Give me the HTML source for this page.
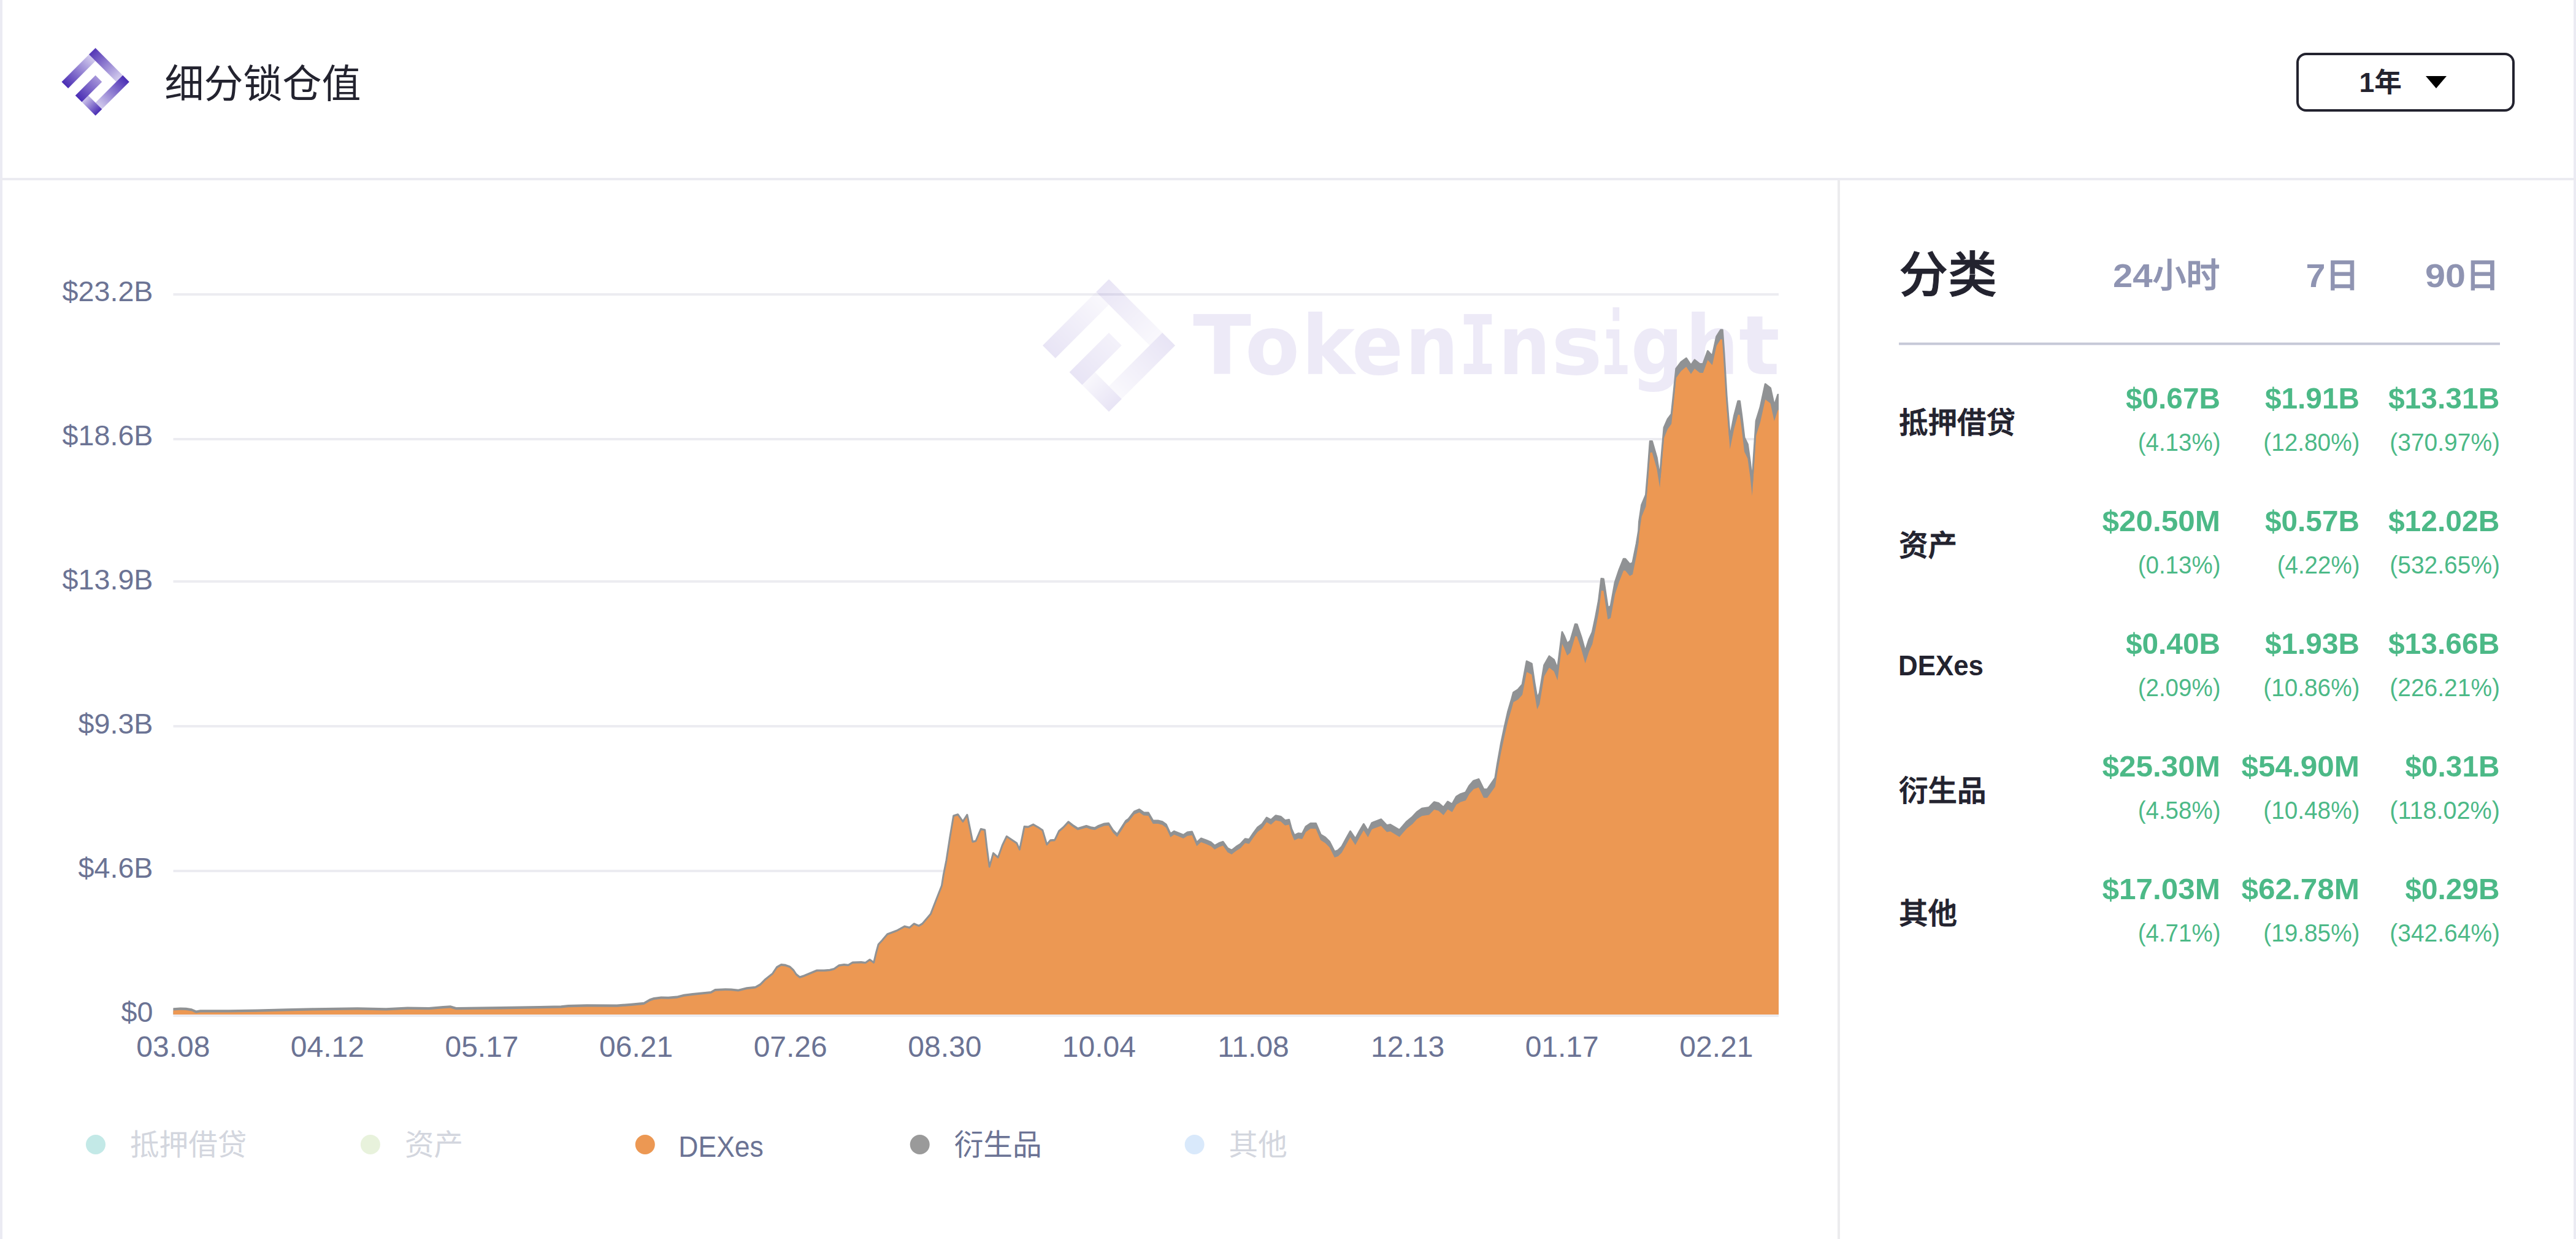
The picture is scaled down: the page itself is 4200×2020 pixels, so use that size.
<!DOCTYPE html>
<html lang="zh-CN"><head><meta charset="utf-8"><title>细分锁仓值</title>
<style>html,body{margin:0;padding:0;background:#fff}body{width:4200px;height:2020px;overflow:hidden}svg{display:block}</style>
</head><body>
<svg width="4200" height="2020" viewBox="0 0 4200 2020" font-family='"Liberation Sans", "Noto Sans CJK SC", sans-serif'>
<defs>
<linearGradient id="lgA" x1="0" y1="0" x2="1" y2="0"><stop offset="0" stop-color="#4a2db4"/><stop offset="0.95" stop-color="#d2cbed"/></linearGradient>
<linearGradient id="lgB" x1="0" y1="0" x2="0" y2="1"><stop offset="0" stop-color="#5437b6"/><stop offset="0.95" stop-color="#d2cbed"/></linearGradient>
<linearGradient id="lgC" x1="1" y1="0" x2="0" y2="0"><stop offset="0" stop-color="#4a2db4"/><stop offset="0.95" stop-color="#d2cbed"/></linearGradient>
<linearGradient id="lgD" x1="0" y1="1" x2="0" y2="0"><stop offset="0" stop-color="#4a2db4"/><stop offset="0.95" stop-color="#cfc7ec"/></linearGradient>
<linearGradient id="lgE" x1="0" y1="0" x2="1" y2="0"><stop offset="0" stop-color="#4a2db4"/><stop offset="1" stop-color="#a797da"/></linearGradient>
</defs>
<rect width="4200" height="2020" fill="#ffffff"/>
<rect x="0" y="0" width="4" height="2020" fill="#ebebf3"/>
<rect x="4196" y="0" width="4" height="2020" fill="#ebebf3"/>
<rect x="0" y="290" width="4200" height="4" fill="#ebebf1"/>
<rect x="2996" y="294" width="4" height="1726" fill="#ececee"/>
<g transform="translate(100.5,133.4) rotate(-45) scale(1.0)"><rect x="0" y="0" width="66" height="15" fill="url(#lgA)"/><rect x="63" y="0" width="15" height="66" fill="url(#lgB)"/><rect x="12" y="63" width="66" height="15" fill="url(#lgC)"/><rect x="0" y="44" width="15" height="34" fill="url(#lgD)"/><rect x="0" y="31.5" width="46.5" height="15" fill="url(#lgE)"/></g>
<text x="268.5" y="159" font-size="64" fill="#23232f">细分锁仓值</text>
<rect x="3746" y="88" width="352" height="92" rx="14" ry="14" fill="#fff" stroke="#23232f" stroke-width="4"/>
<text x="3846.5" y="150" font-size="44" fill="#23232f" font-weight="700" textLength="69.5" lengthAdjust="spacingAndGlyphs">1年</text>
<path d="M3955,124 H3989 L3972,144 Z" fill="#000"/>
<rect x="282.5" y="478" width="2617.5" height="4" fill="#ececf1"/>
<rect x="282.5" y="714" width="2617.5" height="4" fill="#ececf1"/>
<rect x="282.5" y="946" width="2617.5" height="4" fill="#ececf1"/>
<rect x="282.5" y="1182" width="2617.5" height="4" fill="#ececf1"/>
<rect x="282.5" y="1418" width="2617.5" height="4" fill="#ececf1"/>
<rect x="282.5" y="1654" width="2617.5" height="4" fill="#ececf1"/>
<g opacity="0.12"><g transform="translate(1700,563.2) rotate(-45) scale(1.958)"><rect x="0" y="0" width="66" height="15" fill="url(#lgA)"/><rect x="63" y="0" width="15" height="66" fill="url(#lgB)"/><rect x="12" y="63" width="66" height="15" fill="url(#lgC)"/><rect x="0" y="44" width="15" height="34" fill="url(#lgD)"/><rect x="0" y="31.5" width="46.5" height="15" fill="url(#lgE)"/></g></g>
<g fill="#5a40b8" opacity="0.1">
<text y="610" font-family='"DejaVu Sans", "Liberation Sans", sans-serif' font-weight="700" font-size="133"><tspan x="1945" textLength="95" lengthAdjust="spacingAndGlyphs">T</tspan><tspan x="2030" textLength="89" lengthAdjust="spacingAndGlyphs">o</tspan><tspan x="2122" textLength="87" lengthAdjust="spacingAndGlyphs">k</tspan><tspan x="2204" textLength="84" lengthAdjust="spacingAndGlyphs">e</tspan><tspan x="2291" textLength="87" lengthAdjust="spacingAndGlyphs">n</tspan><tspan x="2378" font-family='"DejaVu Sans Mono", "Liberation Mono", monospace' textLength="63" lengthAdjust="spacingAndGlyphs">I</tspan><tspan x="2443" textLength="85" lengthAdjust="spacingAndGlyphs">n</tspan><tspan x="2529" textLength="84" lengthAdjust="spacingAndGlyphs">s</tspan><tspan x="2611" font-family='"DejaVu Sans Mono", "Liberation Mono", monospace' textLength="45" lengthAdjust="spacingAndGlyphs">i</tspan><tspan x="2659" textLength="85" lengthAdjust="spacingAndGlyphs">g</tspan><tspan x="2748" textLength="87" lengthAdjust="spacingAndGlyphs">h</tspan><tspan x="2835" textLength="67" lengthAdjust="spacingAndGlyphs">t</tspan></text></g>
<path d="M282.5,1644.7 L294.0,1644.0 L303.3,1644.2 L312.6,1645.8 L319.6,1648.9 L326.6,1647.7 L373.2,1647.7 L419.8,1647.0 L466.3,1645.8 L512.9,1644.7 L582.8,1643.7 L629.4,1644.7 L664.3,1643.0 L699.3,1643.5 L722.6,1641.4 L734.2,1640.7 L743.5,1643.5 L815.8,1642.6 L880.0,1641.4 L914.9,1640.7 L926.6,1639.5 L956.9,1638.8 L1005.8,1639.0 L1029.1,1637.2 L1050.0,1635.3 L1059.4,1629.7 L1066.3,1627.4 L1078.0,1626.0 L1089.6,1626.2 L1103.6,1625.1 L1115.3,1622.3 L1129.2,1620.4 L1159.5,1617.4 L1166.5,1613.4 L1182.8,1612.7 L1192.1,1612.9 L1203.8,1614.3 L1217.8,1610.8 L1231.7,1609.2 L1239.9,1604.6 L1248.0,1596.4 L1259.7,1587.1 L1266.7,1576.6 L1273.7,1572.6 L1280.7,1573.3 L1287.6,1575.9 L1293.5,1581.3 L1298.1,1588.3 L1303.9,1592.9 L1310.9,1590.6 L1331.9,1582.0 L1343.5,1582.0 L1352.9,1581.3 L1359.9,1579.4 L1368.0,1573.8 L1376.2,1572.6 L1383.1,1573.3 L1390.1,1569.1 L1404.1,1568.5 L1411.1,1569.4 L1418.1,1564.5 L1424.7,1569.2 L1428.1,1554.5 L1432.1,1539.8 L1438.3,1533.0 L1446.8,1522.9 L1462.0,1517.2 L1475.0,1510.1 L1483.0,1512.1 L1490.3,1505.9 L1498.2,1509.3 L1503.8,1505.9 L1517.4,1490.1 L1525.3,1469.7 L1535.5,1443.8 L1538.3,1426.0 L1543.0,1402.6 L1548.8,1365.1 L1554.7,1330.0 L1561.7,1327.7 L1569.9,1339.4 L1576.9,1328.4 L1581.6,1351.1 L1585.8,1372.1 L1591.0,1371.0 L1599.2,1351.5 L1605.7,1353.0 L1609.0,1381.5 L1613.2,1413.1 L1619.5,1390.9 L1627.2,1397.9 L1634.3,1378.0 L1641.3,1363.5 L1650.6,1369.8 L1657.7,1374.5 L1662.4,1385.0 L1666.6,1365.1 L1670.1,1347.6 L1676.4,1348.0 L1684.6,1344.1 L1692.8,1348.7 L1699.8,1353.4 L1703.3,1365.1 L1706.8,1376.8 L1712.7,1369.8 L1719.7,1369.3 L1726.7,1354.6 L1733.7,1348.7 L1741.9,1339.8 L1749.0,1345.2 L1757.1,1350.6 L1771.2,1346.4 L1778.2,1348.7 L1785.2,1349.9 L1791.1,1346.4 L1800.4,1342.9 L1807.5,1342.2 L1814.5,1353.4 L1821.5,1360.4 L1829.7,1347.6 L1835.6,1338.2 L1840.0,1335.2 L1849.4,1323.2 L1857.6,1319.7 L1864.6,1324.8 L1872.3,1325.1 L1879.8,1338.0 L1888.0,1338.0 L1895.0,1339.6 L1901.3,1344.3 L1908.3,1359.5 L1914.4,1355.3 L1921.9,1358.3 L1929.4,1361.4 L1936.0,1357.1 L1943.5,1356.0 L1951.2,1373.5 L1958.2,1367.0 L1966.4,1370.0 L1974.6,1373.5 L1980.4,1378.7 L1987.5,1374.7 L1994.0,1372.4 L2001.5,1382.9 L2008.1,1386.4 L2015.5,1380.6 L2022.6,1375.9 L2030.1,1367.7 L2036.6,1368.8 L2043.6,1358.3 L2050.6,1349.0 L2057.7,1343.8 L2065.2,1333.0 L2072.2,1336.8 L2079.9,1329.8 L2088.1,1331.4 L2095.1,1337.7 L2101.7,1336.5 L2105.7,1351.3 L2110.3,1361.8 L2116.7,1358.8 L2123.2,1359.5 L2129.1,1347.8 L2136.8,1342.4 L2145.4,1342.4 L2153.2,1360.7 L2160.7,1365.3 L2167.7,1372.4 L2175.9,1388.7 L2181.7,1386.4 L2187.6,1380.6 L2194.6,1367.7 L2201.6,1355.3 L2209.8,1367.7 L2216.8,1354.8 L2223.4,1343.6 L2230.4,1354.8 L2236.7,1341.9 L2240.0,1340.3 L2251.7,1335.8 L2261.1,1345.7 L2266.9,1344.5 L2281.7,1353.2 L2293.8,1339.3 L2303.2,1331.6 L2310.2,1323.9 L2318.4,1318.3 L2330.1,1316.4 L2338.3,1307.7 L2345.3,1309.4 L2353.5,1316.4 L2360.5,1307.0 L2367.6,1311.3 L2374.6,1298.8 L2381.6,1294.6 L2389.8,1291.8 L2395.6,1281.3 L2402.7,1273.1 L2410.9,1270.3 L2419.1,1287.1 L2424.9,1287.1 L2437.8,1268.4 L2441.3,1246.2 L2447.1,1213.4 L2453.0,1185.3 L2458.8,1159.6 L2464.7,1139.7 L2467.6,1128.9 L2475.1,1124.2 L2482.1,1116.0 L2489.2,1078.1 L2497.3,1082.0 L2502.0,1113.6 L2506.2,1138.2 L2510.2,1130.0 L2517.7,1084.4 L2525.9,1069.9 L2533.6,1075.7 L2539.5,1090.2 L2543.0,1062.1 L2547.0,1030.6 L2550.0,1036.4 L2555.2,1049.3 L2560.5,1044.6 L2568.3,1017.7 L2571.1,1018.1 L2578.1,1038.7 L2584.6,1062.1 L2591.0,1042.3 L2596.3,1030.6 L2601.5,1006.0 L2606.6,979.1 L2610.9,943.5 L2614.4,944.0 L2621.4,990.8 L2626.1,988.4 L2633.1,949.8 L2640.1,928.7 L2647.1,911.2 L2649.9,911.2 L2657.2,919.8 L2661.9,917.5 L2668.2,886.6 L2671.7,865.5 L2672.5,850.7 L2676.6,823.3 L2683.5,806.8 L2686.7,768.4 L2690.3,719.6 L2693.6,719.6 L2701.3,746.5 L2706.2,778.0 L2709.5,738.2 L2713.1,697.1 L2719.1,683.4 L2725.2,675.1 L2728.7,642.2 L2732.8,601.1 L2741.1,590.1 L2749.3,584.1 L2757.0,595.6 L2763.0,586.8 L2771.2,593.4 L2776.7,593.4 L2784.4,572.3 L2791.8,580.5 L2798.7,548.9 L2805.5,538.0 L2808.3,538.0 L2811.0,576.4 L2815.1,645.0 L2820.6,713.5 L2827.5,677.9 L2833.8,654.0 L2836.5,654.0 L2839.8,677.9 L2844.0,713.5 L2849.4,724.5 L2853.6,754.7 L2856.8,784.9 L2859.6,741.0 L2863.2,686.1 L2870.0,664.2 L2878.2,626.3 L2886.5,632.6 L2892.8,661.4 L2898.8,643.6 L2900.0,643.6 L2900,1654 L282.5,1654 Z" fill="#909294"/>
<path d="M282.5,1647.5 L294.0,1646.8 L303.3,1647.0 L312.6,1648.6 L319.6,1651.7 L326.6,1650.5 L373.2,1650.5 L419.8,1649.8 L466.3,1648.6 L512.9,1647.5 L582.8,1646.5 L629.4,1647.5 L664.3,1645.8 L699.3,1646.3 L722.6,1644.2 L734.2,1643.5 L743.5,1646.3 L815.8,1645.4 L880.0,1644.2 L914.9,1643.5 L926.6,1642.3 L956.9,1641.6 L1005.8,1641.8 L1029.1,1639.9 L1050.0,1638.0 L1059.4,1632.4 L1066.3,1630.0 L1078.0,1628.6 L1089.6,1628.8 L1103.6,1627.7 L1115.3,1624.8 L1129.2,1622.9 L1159.5,1619.8 L1166.5,1615.8 L1182.8,1615.1 L1192.1,1615.3 L1203.8,1616.6 L1217.8,1613.1 L1231.7,1611.5 L1239.9,1606.9 L1248.0,1598.6 L1259.7,1589.3 L1266.7,1578.8 L1273.7,1574.8 L1280.7,1575.5 L1287.6,1578.0 L1293.5,1583.4 L1298.1,1590.4 L1303.9,1595.0 L1310.9,1592.7 L1331.9,1584.0 L1343.5,1584.0 L1352.9,1583.3 L1359.9,1581.4 L1368.0,1575.8 L1376.2,1574.5 L1383.1,1575.2 L1390.1,1571.0 L1404.1,1570.4 L1411.1,1571.3 L1418.1,1566.3 L1424.7,1571.0 L1428.1,1556.3 L1432.1,1541.6 L1438.3,1534.8 L1446.8,1524.7 L1462.0,1519.0 L1475.0,1511.9 L1483.0,1513.9 L1490.3,1507.7 L1498.2,1511.1 L1503.8,1507.7 L1517.4,1491.9 L1525.3,1471.5 L1535.5,1445.6 L1538.3,1427.8 L1543.0,1404.4 L1548.8,1366.9 L1554.7,1331.8 L1561.7,1329.5 L1569.9,1341.2 L1576.9,1330.2 L1581.6,1352.9 L1585.8,1373.9 L1591.0,1372.8 L1599.2,1353.3 L1605.7,1354.8 L1609.0,1383.3 L1613.2,1414.9 L1619.5,1392.7 L1627.2,1399.7 L1634.3,1379.8 L1641.3,1365.3 L1650.6,1371.6 L1657.7,1376.3 L1662.4,1386.8 L1666.6,1366.9 L1670.1,1349.4 L1676.4,1349.8 L1684.6,1345.9 L1692.8,1350.5 L1699.8,1355.2 L1703.3,1367.0 L1706.8,1378.7 L1712.7,1371.8 L1719.7,1371.5 L1726.7,1356.9 L1733.7,1351.1 L1741.9,1342.4 L1749.0,1347.9 L1757.1,1353.5 L1771.2,1349.6 L1778.2,1352.0 L1785.2,1353.3 L1791.1,1350.0 L1800.4,1346.6 L1807.5,1346.1 L1814.5,1357.4 L1821.5,1364.5 L1829.7,1351.9 L1835.6,1342.6 L1840.0,1339.7 L1849.4,1327.8 L1857.6,1324.4 L1864.6,1329.6 L1872.3,1330.0 L1879.8,1343.0 L1888.0,1343.1 L1895.0,1344.8 L1901.3,1349.6 L1908.3,1364.9 L1914.4,1360.7 L1921.9,1363.8 L1929.4,1367.0 L1936.0,1362.8 L1943.5,1361.8 L1951.2,1379.4 L1958.2,1373.0 L1966.4,1376.1 L1974.6,1379.7 L1980.4,1385.0 L1987.5,1381.0 L1994.0,1378.8 L2001.5,1389.4 L2008.1,1393.0 L2015.5,1387.3 L2022.6,1382.7 L2030.1,1374.6 L2036.6,1375.8 L2043.6,1365.4 L2050.6,1356.2 L2057.7,1351.1 L2065.2,1340.4 L2072.2,1344.4 L2079.9,1337.5 L2088.1,1339.2 L2095.1,1345.7 L2101.7,1344.6 L2105.7,1359.4 L2110.3,1370.0 L2116.7,1367.1 L2123.2,1368.0 L2129.1,1356.4 L2136.8,1351.1 L2145.4,1351.2 L2153.2,1369.7 L2160.7,1374.4 L2167.7,1381.6 L2175.9,1398.1 L2181.7,1395.9 L2187.6,1390.2 L2194.6,1377.4 L2201.6,1365.1 L2209.8,1377.7 L2216.8,1364.9 L2223.4,1353.8 L2230.4,1365.1 L2236.7,1352.3 L2240.0,1350.8 L2251.7,1346.5 L2261.1,1356.6 L2266.9,1355.5 L2281.7,1364.4 L2293.8,1350.7 L2303.2,1343.2 L2310.2,1335.6 L2318.4,1330.2 L2330.1,1328.5 L2338.3,1319.9 L2345.3,1321.7 L2353.5,1328.9 L2360.5,1319.6 L2367.6,1324.0 L2374.6,1311.7 L2381.6,1307.6 L2389.8,1304.9 L2395.6,1294.5 L2402.7,1286.4 L2410.9,1283.8 L2419.1,1300.7 L2424.9,1300.8 L2437.8,1282.4 L2441.3,1260.3 L2447.1,1227.9 L2453.0,1200.2 L2458.8,1174.9 L2464.7,1155.3 L2467.6,1144.7 L2475.1,1140.5 L2482.1,1132.8 L2489.2,1095.4 L2497.3,1099.8 L2502.0,1131.6 L2506.2,1156.4 L2510.2,1148.3 L2517.7,1102.8 L2525.9,1088.5 L2533.6,1094.5 L2539.5,1109.2 L2543.0,1081.2 L2547.0,1049.8 L2550.0,1055.7 L2555.2,1068.7 L2560.5,1064.1 L2568.3,1037.2 L2571.1,1037.6 L2578.1,1058.1 L2584.6,1081.5 L2591.0,1061.7 L2596.3,1049.9 L2601.5,1025.3 L2606.6,998.4 L2610.9,962.8 L2614.4,963.3 L2621.4,1010.0 L2626.1,1007.6 L2633.1,969.0 L2640.1,947.9 L2647.1,930.3 L2649.9,930.3 L2657.2,938.9 L2661.9,936.6 L2668.2,905.6 L2671.7,884.5 L2672.5,869.7 L2676.6,842.3 L2683.5,825.5 L2686.7,786.9 L2690.3,737.9 L2693.6,737.6 L2701.3,764.0 L2706.2,795.1 L2709.5,755.1 L2713.1,713.7 L2719.1,699.6 L2725.2,690.9 L2728.7,657.7 L2732.8,616.3 L2741.1,604.7 L2749.3,598.1 L2757.0,609.7 L2763.0,601.0 L2771.2,607.8 L2776.7,607.9 L2784.4,586.9 L2791.8,595.3 L2798.7,563.8 L2805.5,553.1 L2808.3,553.8 L2811.0,592.8 L2815.1,662.4 L2820.6,732.3 L2827.5,698.3 L2833.8,676.0 L2836.5,676.2 L2839.8,700.3 L2844.0,736.2 L2849.4,747.5 L2853.6,778.0 L2856.8,808.4 L2859.6,764.7 L2863.2,710.0 L2870.0,688.5 L2878.2,651.2 L2886.5,657.6 L2892.8,686.4 L2898.8,668.6 L2900.0,668.6 L2900,1654 L282.5,1654 Z" fill="#ec9853"/>
<path d="M282.5,1644.7 L294.0,1644.0 L303.3,1644.2 L312.6,1645.8 L319.6,1648.9 L326.6,1647.7 L373.2,1647.7 L419.8,1647.0 L466.3,1645.8 L512.9,1644.7 L582.8,1643.7 L629.4,1644.7 L664.3,1643.0 L699.3,1643.5 L722.6,1641.4 L734.2,1640.7 L743.5,1643.5 L815.8,1642.6 L880.0,1641.4 L914.9,1640.7 L926.6,1639.5 L956.9,1638.8 L1005.8,1639.0 L1029.1,1637.2 L1050.0,1635.3 L1059.4,1629.7 L1066.3,1627.4 L1078.0,1626.0 L1089.6,1626.2 L1103.6,1625.1 L1115.3,1622.3 L1129.2,1620.4 L1159.5,1617.4 L1166.5,1613.4 L1182.8,1612.7 L1192.1,1612.9 L1203.8,1614.3 L1217.8,1610.8 L1231.7,1609.2 L1239.9,1604.6 L1248.0,1596.4 L1259.7,1587.1 L1266.7,1576.6 L1273.7,1572.6 L1280.7,1573.3 L1287.6,1575.9 L1293.5,1581.3 L1298.1,1588.3 L1303.9,1592.9 L1310.9,1590.6 L1331.9,1582.0 L1343.5,1582.0 L1352.9,1581.3 L1359.9,1579.4 L1368.0,1573.8 L1376.2,1572.6 L1383.1,1573.3 L1390.1,1569.1 L1404.1,1568.5 L1411.1,1569.4 L1418.1,1564.5 L1424.7,1569.2 L1428.1,1554.5 L1432.1,1539.8 L1438.3,1533.0 L1446.8,1522.9 L1462.0,1517.2 L1475.0,1510.1 L1483.0,1512.1 L1490.3,1505.9 L1498.2,1509.3 L1503.8,1505.9 L1517.4,1490.1 L1525.3,1469.7 L1535.5,1443.8 L1538.3,1426.0 L1543.0,1402.6 L1548.8,1365.1 L1554.7,1330.0 L1561.7,1327.7 L1569.9,1339.4 L1576.9,1328.4 L1581.6,1351.1 L1585.8,1372.1 L1591.0,1371.0 L1599.2,1351.5 L1605.7,1353.0 L1609.0,1381.5 L1613.2,1413.1 L1619.5,1390.9 L1627.2,1397.9 L1634.3,1378.0 L1641.3,1363.5 L1650.6,1369.8 L1657.7,1374.5 L1662.4,1385.0 L1666.6,1365.1 L1670.1,1347.6 L1676.4,1348.0 L1684.6,1344.1 L1692.8,1348.7 L1699.8,1353.4 L1703.3,1365.1 L1706.8,1376.8 L1712.7,1369.8 L1719.7,1369.3 L1726.7,1354.6 L1733.7,1348.7 L1741.9,1339.8 L1749.0,1345.2 L1757.1,1350.6 L1771.2,1346.4 L1778.2,1348.7 L1785.2,1349.9 L1791.1,1346.4 L1800.4,1342.9 L1807.5,1342.2 L1814.5,1353.4 L1821.5,1360.4 L1829.7,1347.6 L1835.6,1338.2 L1840.0,1335.2 L1849.4,1323.2 L1857.6,1319.7 L1864.6,1324.8 L1872.3,1325.1 L1879.8,1338.0 L1888.0,1338.0 L1895.0,1339.6 L1901.3,1344.3 L1908.3,1359.5 L1914.4,1355.3 L1921.9,1358.3 L1929.4,1361.4 L1936.0,1357.1 L1943.5,1356.0 L1951.2,1373.5 L1958.2,1367.0 L1966.4,1370.0 L1974.6,1373.5 L1980.4,1378.7 L1987.5,1374.7 L1994.0,1372.4 L2001.5,1382.9 L2008.1,1386.4 L2015.5,1380.6 L2022.6,1375.9 L2030.1,1367.7 L2036.6,1368.8 L2043.6,1358.3 L2050.6,1349.0 L2057.7,1343.8 L2065.2,1333.0 L2072.2,1336.8 L2079.9,1329.8 L2088.1,1331.4 L2095.1,1337.7 L2101.7,1336.5 L2105.7,1351.3 L2110.3,1361.8 L2116.7,1358.8 L2123.2,1359.5 L2129.1,1347.8 L2136.8,1342.4 L2145.4,1342.4 L2153.2,1360.7 L2160.7,1365.3 L2167.7,1372.4 L2175.9,1388.7 L2181.7,1386.4 L2187.6,1380.6 L2194.6,1367.7 L2201.6,1355.3 L2209.8,1367.7 L2216.8,1354.8 L2223.4,1343.6 L2230.4,1354.8 L2236.7,1341.9 L2240.0,1340.3 L2251.7,1335.8 L2261.1,1345.7 L2266.9,1344.5 L2281.7,1353.2 L2293.8,1339.3 L2303.2,1331.6 L2310.2,1323.9 L2318.4,1318.3 L2330.1,1316.4 L2338.3,1307.7 L2345.3,1309.4 L2353.5,1316.4 L2360.5,1307.0 L2367.6,1311.3 L2374.6,1298.8 L2381.6,1294.6 L2389.8,1291.8 L2395.6,1281.3 L2402.7,1273.1 L2410.9,1270.3 L2419.1,1287.1 L2424.9,1287.1 L2437.8,1268.4 L2441.3,1246.2 L2447.1,1213.4 L2453.0,1185.3 L2458.8,1159.6 L2464.7,1139.7 L2467.6,1128.9 L2475.1,1124.2 L2482.1,1116.0 L2489.2,1078.1 L2497.3,1082.0 L2502.0,1113.6 L2506.2,1138.2 L2510.2,1130.0 L2517.7,1084.4 L2525.9,1069.9 L2533.6,1075.7 L2539.5,1090.2 L2543.0,1062.1 L2547.0,1030.6 L2550.0,1036.4 L2555.2,1049.3 L2560.5,1044.6 L2568.3,1017.7 L2571.1,1018.1 L2578.1,1038.7 L2584.6,1062.1 L2591.0,1042.3 L2596.3,1030.6 L2601.5,1006.0 L2606.6,979.1 L2610.9,943.5 L2614.4,944.0 L2621.4,990.8 L2626.1,988.4 L2633.1,949.8 L2640.1,928.7 L2647.1,911.2 L2649.9,911.2 L2657.2,919.8 L2661.9,917.5 L2668.2,886.6 L2671.7,865.5 L2672.5,850.7 L2676.6,823.3 L2683.5,806.8 L2686.7,768.4 L2690.3,719.6 L2693.6,719.6 L2701.3,746.5 L2706.2,778.0 L2709.5,738.2 L2713.1,697.1 L2719.1,683.4 L2725.2,675.1 L2728.7,642.2 L2732.8,601.1 L2741.1,590.1 L2749.3,584.1 L2757.0,595.6 L2763.0,586.8 L2771.2,593.4 L2776.7,593.4 L2784.4,572.3 L2791.8,580.5 L2798.7,548.9 L2805.5,538.0 L2808.3,538.0 L2811.0,576.4 L2815.1,645.0 L2820.6,713.5 L2827.5,677.9 L2833.8,654.0 L2836.5,654.0 L2839.8,677.9 L2844.0,713.5 L2849.4,724.5 L2853.6,754.7 L2856.8,784.9 L2859.6,741.0 L2863.2,686.1 L2870.0,664.2 L2878.2,626.3 L2886.5,632.6 L2892.8,661.4 L2898.8,643.6 L2900.0,643.6" fill="none" stroke="#909294" stroke-width="3" stroke-linejoin="round"/>
<text x="249.5" y="491" font-size="46.7" fill="#6b7394" text-anchor="end">$23.2B</text>
<text x="249.5" y="726" font-size="46.7" fill="#6b7394" text-anchor="end">$18.6B</text>
<text x="249.5" y="961" font-size="46.7" fill="#6b7394" text-anchor="end">$13.9B</text>
<text x="249.5" y="1196" font-size="46.7" fill="#6b7394" text-anchor="end">$9.3B</text>
<text x="249.5" y="1431" font-size="46.7" fill="#6b7394" text-anchor="end">$4.6B</text>
<text x="249.5" y="1666" font-size="46.7" fill="#6b7394" text-anchor="end">$0</text>
<text x="282.3" y="1722.5" font-size="48" fill="#6b7394" text-anchor="middle">03.08</text>
<text x="533.9" y="1722.5" font-size="48" fill="#6b7394" text-anchor="middle">04.12</text>
<text x="785.5" y="1722.5" font-size="48" fill="#6b7394" text-anchor="middle">05.17</text>
<text x="1037.1" y="1722.5" font-size="48" fill="#6b7394" text-anchor="middle">06.21</text>
<text x="1288.7" y="1722.5" font-size="48" fill="#6b7394" text-anchor="middle">07.26</text>
<text x="1540.3" y="1722.5" font-size="48" fill="#6b7394" text-anchor="middle">08.30</text>
<text x="1791.9" y="1722.5" font-size="48" fill="#6b7394" text-anchor="middle">10.04</text>
<text x="2043.5" y="1722.5" font-size="48" fill="#6b7394" text-anchor="middle">11.08</text>
<text x="2295.1" y="1722.5" font-size="48" fill="#6b7394" text-anchor="middle">12.13</text>
<text x="2546.7" y="1722.5" font-size="48" fill="#6b7394" text-anchor="middle">01.17</text>
<text x="2798.3" y="1722.5" font-size="48" fill="#6b7394" text-anchor="middle">02.21</text>
<circle cx="156.0" cy="1866" r="16" fill="#c3e9e7"/>
<text x="212.0" y="1882.5" font-size="47.6" fill="#d3d6de">抵押借贷</text>
<circle cx="603.9" cy="1866" r="16" fill="#e8f2dc"/>
<text x="659.9" y="1882.5" font-size="47.6" fill="#d3d6de">资产</text>
<circle cx="1051.8" cy="1866" r="16" fill="#ec9853"/>
<text x="1106.3" y="1885.5" font-size="47.5" fill="#6b7394" textLength="138.6" lengthAdjust="spacingAndGlyphs">DEXes</text>
<circle cx="1499.7" cy="1866" r="16" fill="#9a9a9a"/>
<text x="1555.7" y="1882.5" font-size="47.6" fill="#6b7394">衍生品</text>
<circle cx="1947.6" cy="1866" r="16" fill="#d9e9fb"/>
<text x="2003.6" y="1882.5" font-size="47.6" fill="#d3d6de">其他</text>
<text x="3096" y="476" font-size="80" fill="#23232f" font-weight="500" stroke="#23232f" stroke-width="1">分类</text>
<text x="3619.5" y="468" font-size="55" fill="#8f94b2" font-weight="700" text-anchor="end"><tspan font-size="54" textLength="64.5" lengthAdjust="spacingAndGlyphs">24</tspan><tspan font-weight="500" stroke="#8f94b2" stroke-width="1">小时</tspan></text>
<text x="3846.5" y="468" font-size="55" fill="#8f94b2" font-weight="700" text-anchor="end"><tspan font-size="54" textLength="32" lengthAdjust="spacingAndGlyphs">7</tspan><tspan font-weight="500" stroke="#8f94b2" stroke-width="1">日</tspan></text>
<text x="4075.0" y="468" font-size="55" fill="#8f94b2" font-weight="700" text-anchor="end"><tspan font-size="54" textLength="66" lengthAdjust="spacingAndGlyphs">90</tspan><tspan font-weight="500" stroke="#8f94b2" stroke-width="1">日</tspan></text>
<rect x="3096" y="558.5" width="980" height="4" fill="#c5c8d7"/>
<text x="3096" y="706" font-size="47.5" fill="#23232f" font-weight="500" stroke="#23232f" stroke-width="0.9">抵押借贷</text>
<text x="3620" y="666" font-size="49" fill="#4cb987" font-weight="700" text-anchor="end" textLength="154.1" lengthAdjust="spacingAndGlyphs">$0.67B</text>
<text x="3620.5" y="735" font-size="40" fill="#4cb987" text-anchor="end" textLength="134.8" lengthAdjust="spacingAndGlyphs">(4.13%)</text>
<text x="3847" y="666" font-size="49" fill="#4cb987" font-weight="700" text-anchor="end" textLength="154.1" lengthAdjust="spacingAndGlyphs">$1.91B</text>
<text x="3847.5" y="735" font-size="40" fill="#4cb987" text-anchor="end" textLength="157.2" lengthAdjust="spacingAndGlyphs">(12.80%)</text>
<text x="4075.5" y="666" font-size="49" fill="#4cb987" font-weight="700" text-anchor="end" textLength="181.6" lengthAdjust="spacingAndGlyphs">$13.31B</text>
<text x="4076.0" y="735" font-size="40" fill="#4cb987" text-anchor="end" textLength="179.7" lengthAdjust="spacingAndGlyphs">(370.97%)</text>
<text x="3096" y="906" font-size="47.5" fill="#23232f" font-weight="500" stroke="#23232f" stroke-width="0.9">资产</text>
<text x="3620" y="866" font-size="49" fill="#4cb987" font-weight="700" text-anchor="end" textLength="192.5" lengthAdjust="spacingAndGlyphs">$20.50M</text>
<text x="3620.5" y="935" font-size="40" fill="#4cb987" text-anchor="end" textLength="134.8" lengthAdjust="spacingAndGlyphs">(0.13%)</text>
<text x="3847" y="866" font-size="49" fill="#4cb987" font-weight="700" text-anchor="end" textLength="154.1" lengthAdjust="spacingAndGlyphs">$0.57B</text>
<text x="3847.5" y="935" font-size="40" fill="#4cb987" text-anchor="end" textLength="134.8" lengthAdjust="spacingAndGlyphs">(4.22%)</text>
<text x="4075.5" y="866" font-size="49" fill="#4cb987" font-weight="700" text-anchor="end" textLength="181.6" lengthAdjust="spacingAndGlyphs">$12.02B</text>
<text x="4076.0" y="935" font-size="40" fill="#4cb987" text-anchor="end" textLength="179.7" lengthAdjust="spacingAndGlyphs">(532.65%)</text>
<text x="3095" y="1101" font-size="47" fill="#23232f" font-weight="700" textLength="139.0" lengthAdjust="spacingAndGlyphs">DEXes</text>
<text x="3620" y="1066" font-size="49" fill="#4cb987" font-weight="700" text-anchor="end" textLength="154.1" lengthAdjust="spacingAndGlyphs">$0.40B</text>
<text x="3620.5" y="1135" font-size="40" fill="#4cb987" text-anchor="end" textLength="134.8" lengthAdjust="spacingAndGlyphs">(2.09%)</text>
<text x="3847" y="1066" font-size="49" fill="#4cb987" font-weight="700" text-anchor="end" textLength="154.1" lengthAdjust="spacingAndGlyphs">$1.93B</text>
<text x="3847.5" y="1135" font-size="40" fill="#4cb987" text-anchor="end" textLength="157.2" lengthAdjust="spacingAndGlyphs">(10.86%)</text>
<text x="4075.5" y="1066" font-size="49" fill="#4cb987" font-weight="700" text-anchor="end" textLength="181.6" lengthAdjust="spacingAndGlyphs">$13.66B</text>
<text x="4076.0" y="1135" font-size="40" fill="#4cb987" text-anchor="end" textLength="179.7" lengthAdjust="spacingAndGlyphs">(226.21%)</text>
<text x="3096" y="1306" font-size="47.5" fill="#23232f" font-weight="500" stroke="#23232f" stroke-width="0.9">衍生品</text>
<text x="3620" y="1266" font-size="49" fill="#4cb987" font-weight="700" text-anchor="end" textLength="192.5" lengthAdjust="spacingAndGlyphs">$25.30M</text>
<text x="3620.5" y="1335" font-size="40" fill="#4cb987" text-anchor="end" textLength="134.8" lengthAdjust="spacingAndGlyphs">(4.58%)</text>
<text x="3847" y="1266" font-size="49" fill="#4cb987" font-weight="700" text-anchor="end" textLength="192.5" lengthAdjust="spacingAndGlyphs">$54.90M</text>
<text x="3847.5" y="1335" font-size="40" fill="#4cb987" text-anchor="end" textLength="157.2" lengthAdjust="spacingAndGlyphs">(10.48%)</text>
<text x="4075.5" y="1266" font-size="49" fill="#4cb987" font-weight="700" text-anchor="end" textLength="154.1" lengthAdjust="spacingAndGlyphs">$0.31B</text>
<text x="4076.0" y="1335" font-size="40" fill="#4cb987" text-anchor="end" textLength="179.7" lengthAdjust="spacingAndGlyphs">(118.02%)</text>
<text x="3096" y="1506" font-size="47.5" fill="#23232f" font-weight="500" stroke="#23232f" stroke-width="0.9">其他</text>
<text x="3620" y="1466" font-size="49" fill="#4cb987" font-weight="700" text-anchor="end" textLength="192.5" lengthAdjust="spacingAndGlyphs">$17.03M</text>
<text x="3620.5" y="1535" font-size="40" fill="#4cb987" text-anchor="end" textLength="134.8" lengthAdjust="spacingAndGlyphs">(4.71%)</text>
<text x="3847" y="1466" font-size="49" fill="#4cb987" font-weight="700" text-anchor="end" textLength="192.5" lengthAdjust="spacingAndGlyphs">$62.78M</text>
<text x="3847.5" y="1535" font-size="40" fill="#4cb987" text-anchor="end" textLength="157.2" lengthAdjust="spacingAndGlyphs">(19.85%)</text>
<text x="4075.5" y="1466" font-size="49" fill="#4cb987" font-weight="700" text-anchor="end" textLength="154.1" lengthAdjust="spacingAndGlyphs">$0.29B</text>
<text x="4076.0" y="1535" font-size="40" fill="#4cb987" text-anchor="end" textLength="179.7" lengthAdjust="spacingAndGlyphs">(342.64%)</text>
</svg>
</body></html>
